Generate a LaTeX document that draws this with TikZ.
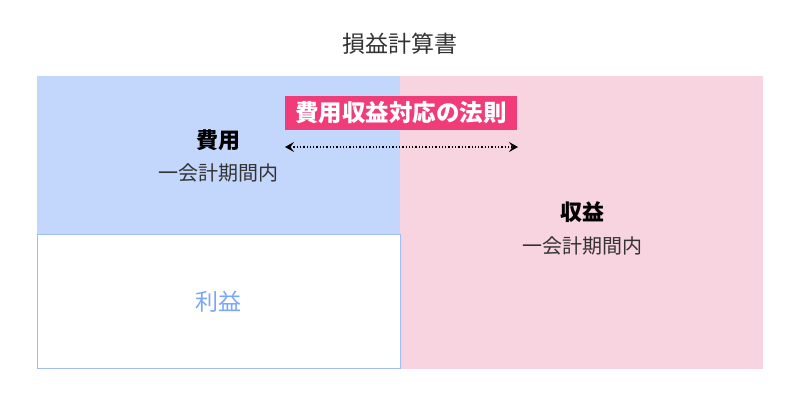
\documentclass[tikz,border=0pt]{standalone}
\usepackage{fontspec}
\setmainfont{Noto Sans CJK JP}
\usetikzlibrary{arrows.meta}
\definecolor{bluefill}{HTML}{C3D6FC}
\definecolor{blueline}{HTML}{9DBCF8}
\definecolor{bluetext}{HTML}{7AA6F7}
\definecolor{pinkfill}{HTML}{F8D3E0}
\definecolor{pinklabel}{HTML}{F03C78}
\definecolor{darktext}{HTML}{333333}
\tikzset{
  txt/.style={text=darktext, inner sep=0pt, font=\fontsize{20}{23}\selectfont},
  head/.style={text=black, inner sep=0pt, font=\fontsize{22}{25}\selectfont\bfseries},
  lbl/.style={fill=pinklabel, text=white, inner xsep=0pt, minimum width=232pt, minimum height=34pt, font=\fontsize{23.5}{27}\selectfont\bfseries},
}
\begin{document}
\begin{tikzpicture}[x=1pt,y=-1pt]
\useasboundingbox (0,0) rectangle (800,400);
\fill[white] (0,0) rectangle (800,400);
% boxes
\fill[pinkfill] (400,76) rectangle (763,369);
\fill[bluefill] (37,76) rectangle (400,234);
\draw[blueline, line width=1pt, fill=white] (37.5,234.5) rectangle (400.5,368.5);
% texts
\node[txt, font=\fontsize{23}{26}\selectfont] (title) at (400,44) {損益計算書};
\node[head] (cost) at (218,140) {費用};
\node[txt] (costp) at (218,173) {一会計期間内};
\node[head] (rev) at (582,212) {収益};
\node[txt] (revp) at (582,246) {一会計期間内};
\node[txt, text=bluetext, font=\fontsize{23}{26}\selectfont] (profit) at (218,302) {利益};
\node[lbl] (rule) at (401,113) {費用収益対応の法則};
\coordinate (al) at (285,147);
\coordinate (ar) at (518,147);
\draw[black, line width=1.3pt, dotted, {Stealth[length=9pt,width=10pt,inset=3.5pt]}-{Stealth[length=9pt,width=10pt,inset=3.5pt]}] (al) -- (ar);
\end{tikzpicture}
\end{document}
